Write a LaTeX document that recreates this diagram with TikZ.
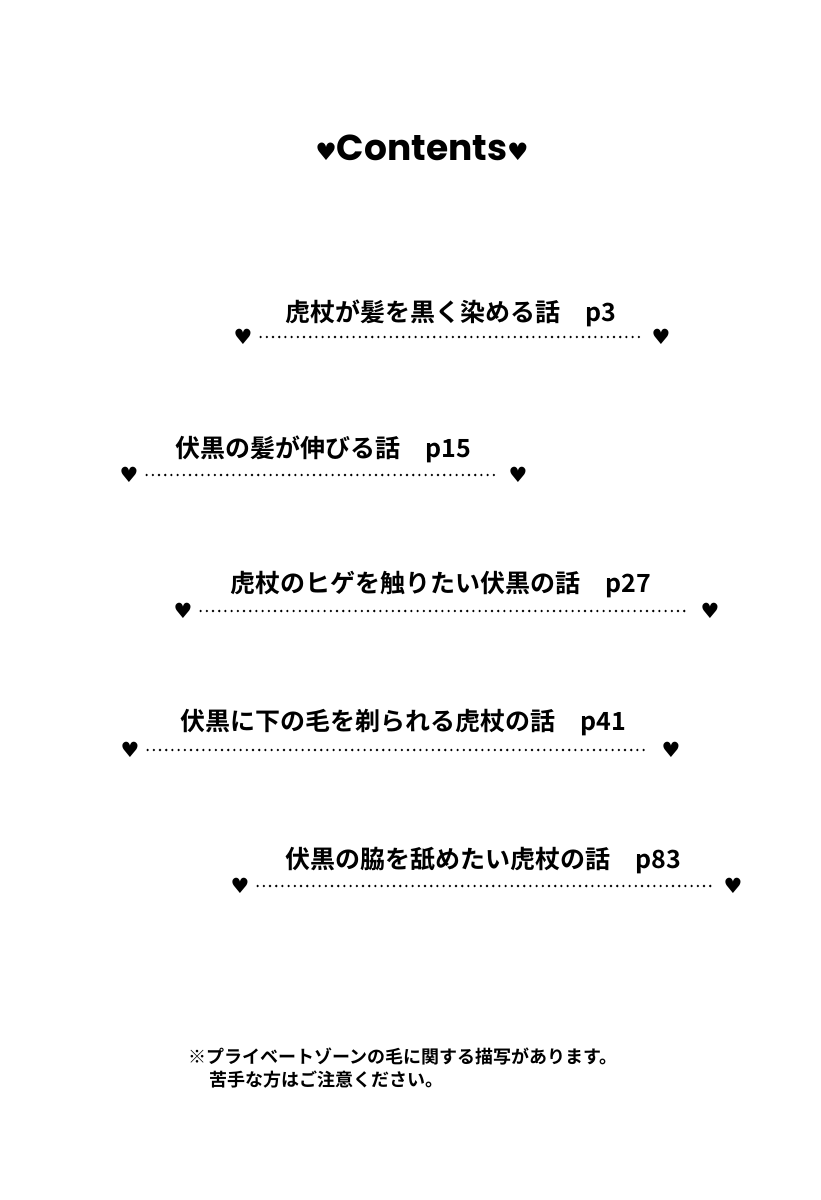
\documentclass[tikz,border=0pt]{standalone}
\usepackage{fontspec}
\setmainfont{Noto Sans CJK JP Bold}
\newfontfamily\symf{DejaVu Sans}
\newfontfamily\latf{Poppins Bold}
\begin{document}
\begin{tikzpicture}[x=1pt,y=-1pt,
  entry/.style={anchor=west,inner sep=0pt,font=\fontsize{25}{28}\selectfont},
  heart/.style={inner sep=0pt,font=\symf\fontsize{21}{21}\selectfont},
  dotline/.style={line width=2.6pt,dash pattern=on 0pt off 6.2pt,line cap=round}]
\useasboundingbox (0,0) rectangle (821,1200);
\fill[white] (0,0) rectangle (821,1200);
\node[inner sep=0pt,font=\latf\fontsize{36}{40}\selectfont] (title) at (422,148) {{\symf\fontsize{24}{24}\selectfont ♥}Contents{\symf\fontsize{24}{24}\selectfont ♥}};
\foreach \n/\tx/\ty/\hl/\hr/\hy/\t in {
 a/285/313/243/661/337/{虎杖が髪を黒く染める話　p3},
 b/175/449/129/518/475/{伏黒の髪が伸びる話　p15},
 c/230/585/183/710/611/{虎杖のヒゲを触りたい伏黒の話　p27},
 d/180/723/130/671/750/{伏黒に下の毛を剃られる虎杖の話　p41},
 e/285/861/240/733/886/{伏黒の脇を舐めたい虎杖の話　p83}}{
  \node[entry] (t\n) at (\tx,\ty) {\t};
  \node[heart] (l\n) at (\hl,\hy) {♥};
  \node[heart] (r\n) at (\hr,\hy) {♥};
  \draw[dotline] ([xshift=8pt]l\n.east) -- ([xshift=-12pt]r\n.west);
}
\node[anchor=west,inner sep=0pt,font=\fontsize{18}{20}\selectfont] (n1) at (188,1057) {※プライベートゾーンの毛に関する描写があります。};
\node[anchor=west,inner sep=0pt,font=\fontsize{18}{20}\selectfont] (n2) at (209,1080) {苦手な方はご注意ください。};
\end{tikzpicture}
\end{document}
